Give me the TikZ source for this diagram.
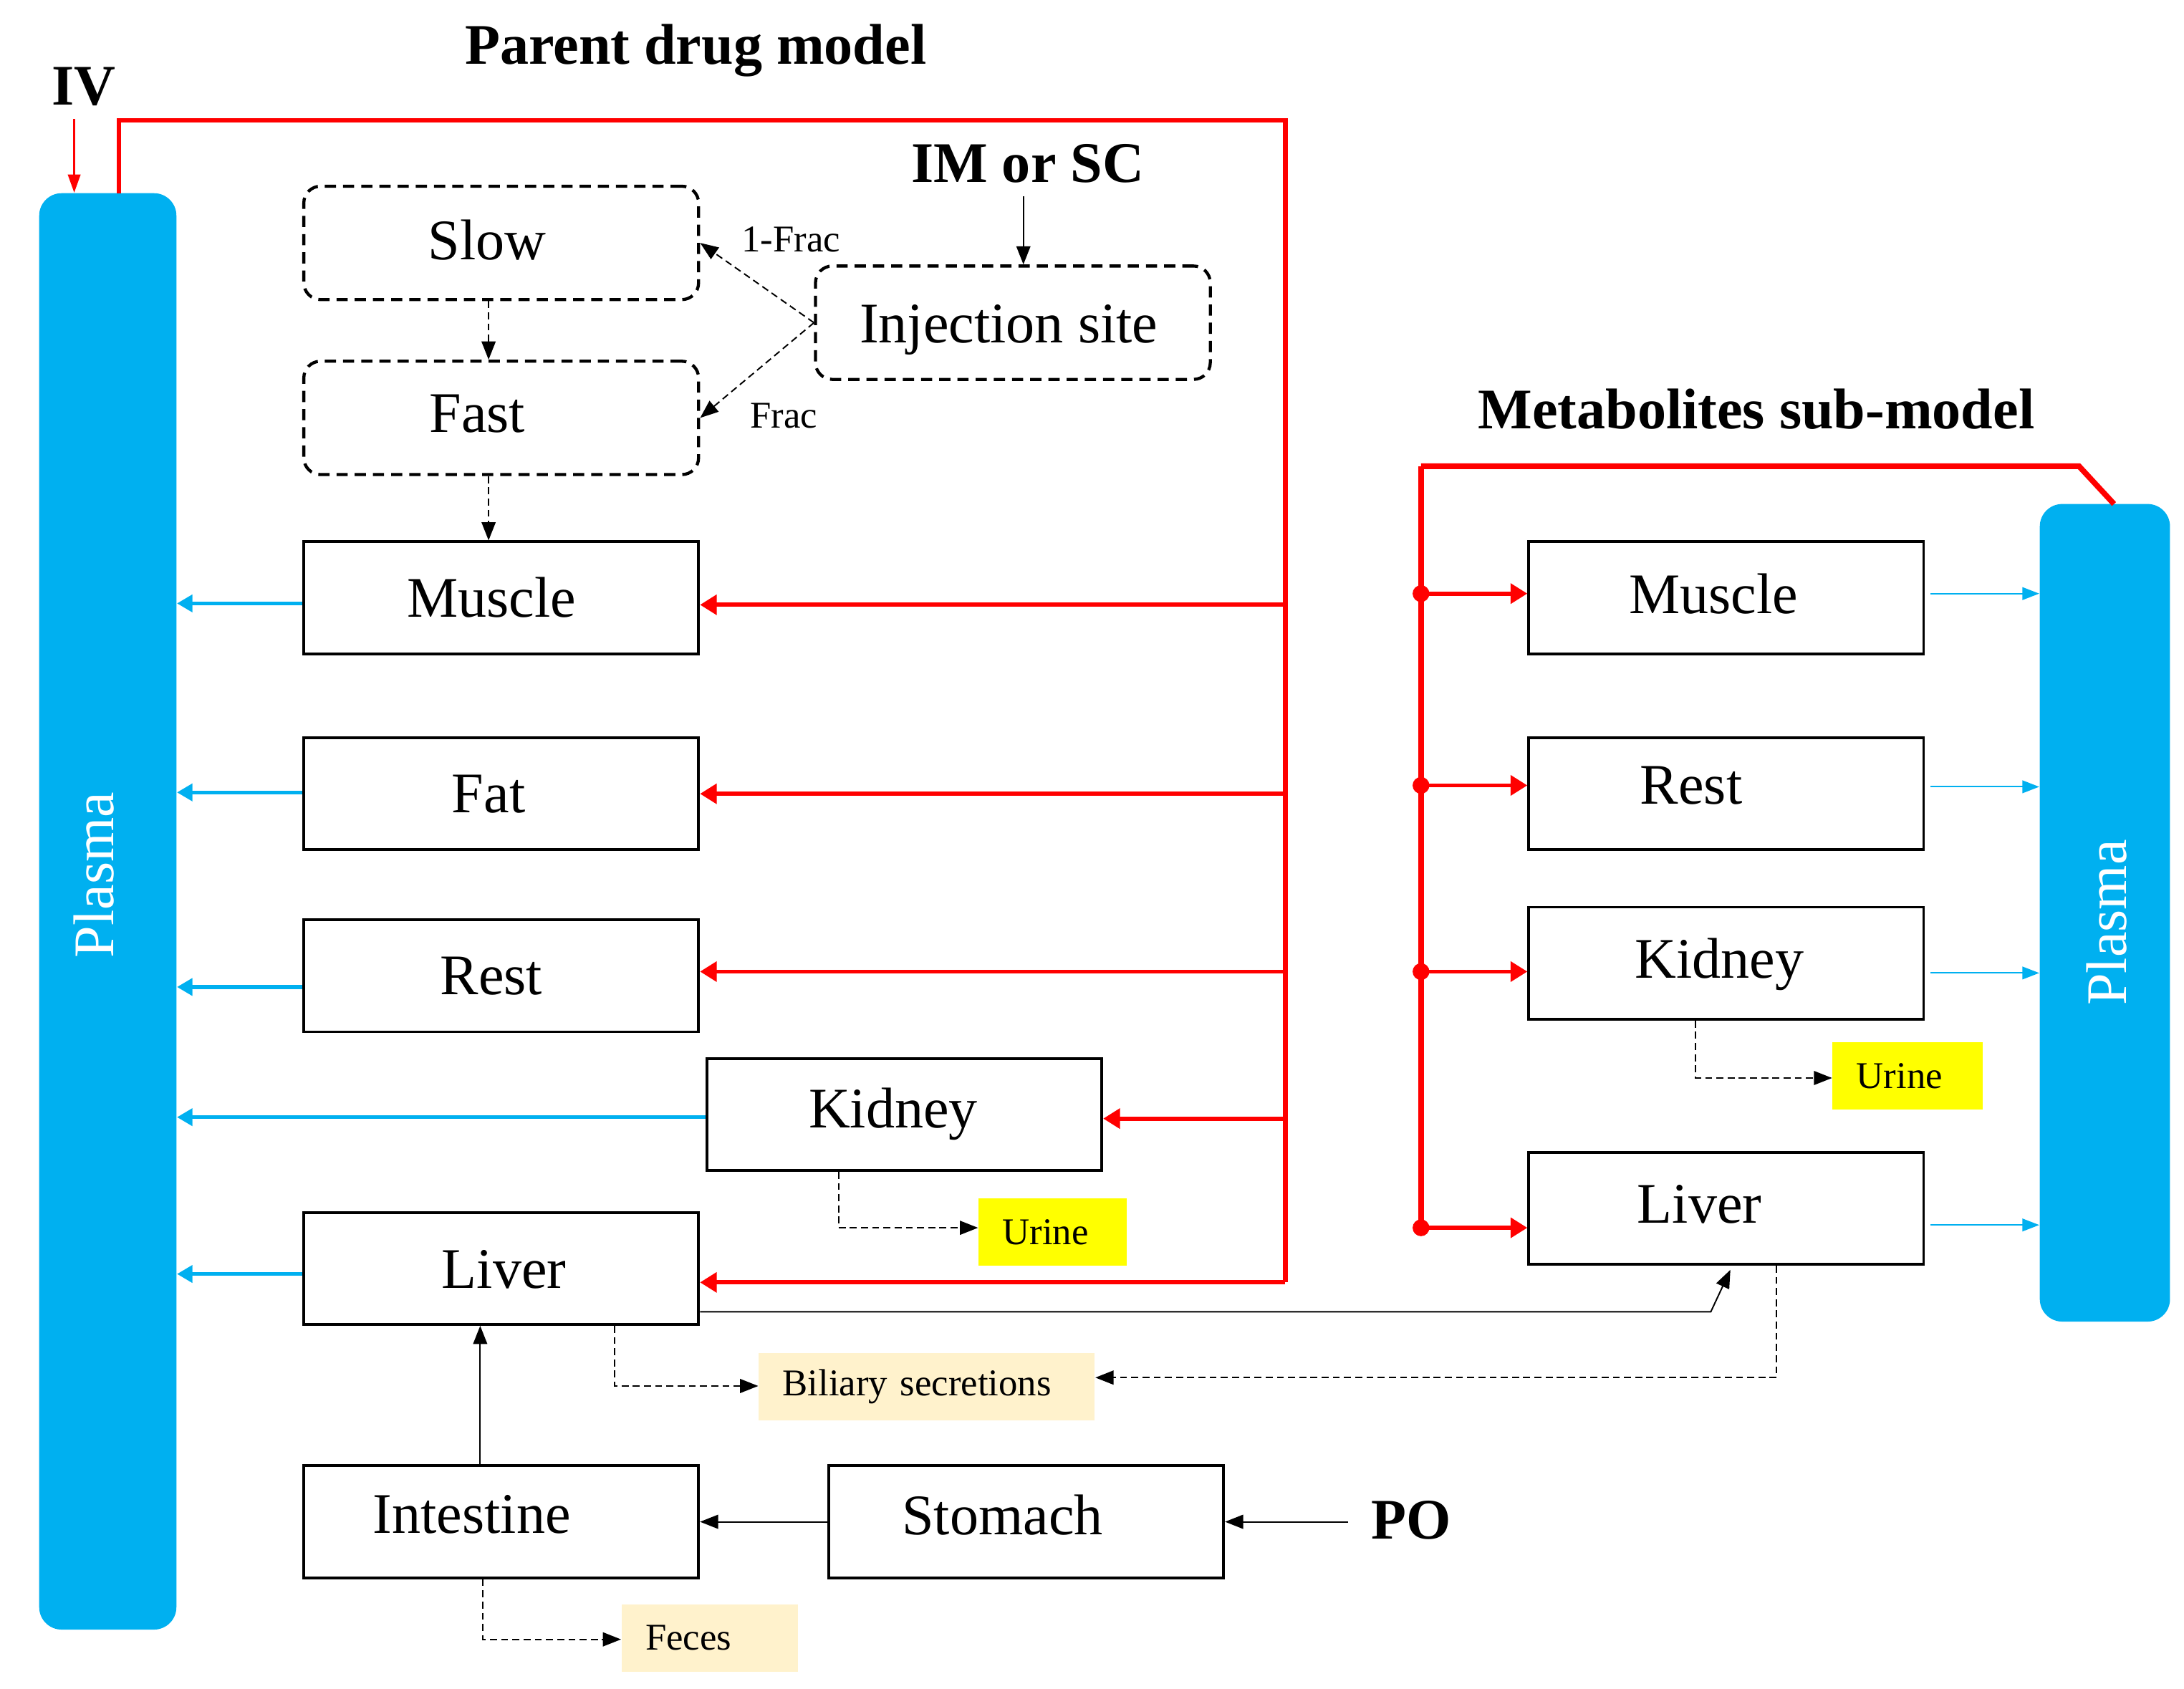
\documentclass[tikz,border=0pt]{standalone}
\usepackage{fontspec}
\setmainfont{Liberation Serif}
\usetikzlibrary{arrows.meta,calc}
\definecolor{pblue}{HTML}{00B0F0}
\definecolor{pred}{HTML}{FF0000}
\definecolor{pyel}{HTML}{FFFF00}
\definecolor{pbeige}{HTML}{FFF2CC}
\begin{document}
\begin{tikzpicture}[x=0.5pt,y=-0.5pt,font=\fontsize{20.5}{24}\selectfont,
  small/.style={font=\fontsize{13.5}{16}\selectfont},
  ttl/.style={font=\fontsize{20.5}{24}\selectfont\bfseries, inner sep=0pt},
  comp/.style={draw, line width=1pt, minimum width=141pt, minimum height=40pt, inner sep=0pt},
  dcomp/.style={comp, rounded corners=6pt, dash pattern=on 4pt off 2.5pt, line width=1.1pt, minimum height=40.5pt},
  plasma/.style={fill=pblue, rounded corners=8pt, inner sep=0pt},
  plt/.style={rotate=90, text=white},
  exc/.style={inner xsep=8.5pt, inner ysep=0pt, text width=#1, align=left, minimum height=24pt, small},
  rtip/.tip={Triangle[length=6pt,width=7pt]},
  redl/.style={draw=pred, line width=1.7pt},
  redm/.style={draw=pred, line width=2pt},
  redarr/.style={draw=pred, line width=1.5pt, -rtip},
  bluearr/.style={draw=pblue, line width=1.4pt, -{Triangle[length=5.5pt,width=6pt]}},
  bluethin/.style={draw=pblue, line width=0.5pt, -{Triangle[length=6pt,width=4.5pt]}},
  blk/.style={draw=black, line width=0.5pt, -{Triangle[length=6.5pt,width=5pt]}},
  dsh/.style={blk, dash pattern=on 2.5pt off 1.5pt},
  redthin/.style={draw=pred, line width=0.6pt, -{Triangle[length=6.5pt,width=4.5pt]}}
]
\useasboundingbox (0,0) rectangle (1560,1206);

% titles
\node[ttl] (t1) at (497,36) {Parent drug model};
\node[ttl] (t2) at (1254.5,292) {Metabolites sub-model};
\node[ttl] (iv) at (60,62) {IV};
\node[ttl] (ims) at (734,117) {IM or SC};
\node[ttl] (po) at (1008,1086) {PO};

% plasma
\node[plasma, minimum width=49pt, minimum height=513pt] (lpl) at (77,651) {};
\node[plt] (lplt) at (67,625) {Plasma};
\node[plasma, minimum width=46.5pt, minimum height=292pt] (rpl) at (1503.5,652) {};
\node[plt] (rplt) at (1505,659) {Plasma};

% parent compartments
\node[dcomp, label={[xshift=-5pt,yshift=1pt]center:Slow}] (slow) at (358,173.5) {};
\node[dcomp, label={[xshift=-8.5pt,yshift=1.5pt]center:Fast}] (fast) at (358,298.5) {};
\node[dcomp, label={[xshift=-1.5pt,yshift=-2.5pt]center:Injection site}] (inj) at (723.5,230.5) {};
\node[comp, label={[xshift=-3.5pt]center:Muscle}] (pmus) at (358,427) {};
\node[comp, label={[xshift=-4.5pt]center:Fat}] (pfat) at (358,567) {};
\node[comp, label={[xshift=-3.5pt]center:Rest}] (prest) at (358,697) {};
\node[comp, label={[xshift=-4pt]center:Kidney}] (pkid) at (646,796) {};
\node[comp, label={[xshift=1pt,yshift=-0.5pt]center:Liver}] (pliv) at (358,906) {};
\node[comp, label={[xshift=-10.5pt,yshift=2.5pt]center:Intestine}] (pint) at (358,1087) {};
\node[comp, label={[xshift=-8.5pt,yshift=2.5pt]center:Stomach}] (psto) at (733,1087) {};

% metabolite compartments
\node[comp, label={[xshift=-4.5pt,yshift=1.5pt]center:Muscle}] (mmus) at (1233,427) {};
\node[comp, label={[xshift=-12.5pt,yshift=3pt]center:Rest}] (mrest) at (1233,567) {};
\node[comp, label={[xshift=-2.5pt,yshift=-0.5pt]center:Kidney}] (mkid) at (1233,688) {};
\node[comp, label={[xshift=-9.5pt,yshift=1.5pt]center:Liver}] (mliv) at (1233,863) {};

% excretion boxes
\node[exc=36pt, fill=pyel] (urine1) at (752,880) {Urine};
\node[exc=36.5pt, fill=pyel] (urine2) at (1362.5,768.5) {Urine};
\node[exc=103pt, fill=pbeige] (bil) at (662,990.5) {Biliary secretions};
\node[exc=46pt, fill=pbeige] (feces) at (507,1170) {Feces};

% small labels
\node[small] (f1) at (565,171) {1-Frac};
\node[small] (f2) at (560,297) {Frac};

% parent red circulation
\coordinate (ptop) at (918,86);
\coordinate (pbot) at (918,916);
\coordinate (b1) at (918,432);
\coordinate (b2) at (918,567);
\coordinate (b3) at (918,694);
\coordinate (b4) at (918,799);
\coordinate (pst) at (85,138);
\draw[redl] (pst) -- (pst |- ptop) -- (ptop) -- (pbot);
\draw[redarr] (pbot) -- (pbot -| pliv.east);
\draw[redarr] (b1) -- (b1 -| pmus.east);
\draw[redarr] (b2) -- (b2 -| pfat.east);
\draw[redarr] (b3) -- (b3 -| prest.east);
\draw[redarr] (b4) -- (b4 -| pkid.east);

% parent blue returns
\coordinate (y1) at (0,431);
\coordinate (y2) at (0,566);
\coordinate (y3) at (0,705);
\coordinate (y4) at (0,798);
\coordinate (y5) at (0,910);
\draw[bluearr] (pmus.west |- y1) -- (lpl.east |- y1);
\draw[bluearr] (pfat.west |- y2) -- (lpl.east |- y2);
\draw[bluearr] (prest.west |- y3) -- (lpl.east |- y3);
\draw[bluearr] (pkid.west |- y4) -- (lpl.east |- y4);
\draw[bluearr] (pliv.west |- y5) -- (lpl.east |- y5);

% metabolite red circulation
\coordinate (mtop) at (1015,333);
\coordinate (mcorner) at (1485,333);
\coordinate (m1) at (1015,424);
\coordinate (m2) at (1015,561);
\coordinate (m3) at (1015,694);
\coordinate (m4) at (1015,877);
\coordinate (mend) at (1510,360);
\draw[redm] (m4) -- (mtop);
\draw[redm] (mtop) -- (mcorner) -- (mend);
\foreach \m/\b in {m1/mmus, m2/mrest, m3/mkid, m4/mliv}{
  \draw[redarr] (\m) -- (\m -| \b.west);
  \fill[pred] (\m) circle (3pt);
}
% metabolite blue returns
\coordinate (n1) at (0,424);
\coordinate (n2) at (0,562);
\coordinate (n3) at (0,695);
\coordinate (n4) at (0,875);
\draw[bluethin] ([xshift=2pt]mmus.east |- n1) -- (rpl.west |- n1);
\draw[bluethin] ([xshift=2pt]mrest.east |- n2) -- (rpl.west |- n2);
\draw[bluethin] ([xshift=2pt]mkid.east |- n3) -- (rpl.west |- n3);
\draw[bluethin] ([xshift=2pt]mliv.east |- n4) -- (rpl.west |- n4);

% doses
\coordinate (ivs) at (53,85);
\draw[redthin] (ivs) -- (ivs |- lpl.north);
\coordinate (ims1) at (731,140);
\draw[blk] (ims1) -- (ims1 |- inj.north);
\coordinate (po1) at (963,1087);
\draw[blk] (po1) -- (po1 -| psto.east);

% injection site split
\draw[dsh] (inj.west) -- (slow.east);
\draw[dsh] (inj.west) -- (fast.east);
\coordinate (sf) at (349,0);
\draw[dsh] (sf |- slow.south) -- (sf |- fast.north);
\draw[dsh] (sf |- fast.south) -- (sf |- pmus.north);

% oral route
\draw[blk] (psto.west) -- (pint.east);
\coordinate (il) at (343,0);
\draw[blk] (il |- pint.north) -- (il |- pliv.south);

% liver to metabolite liver
\coordinate (lm1) at (0,937);
\coordinate (lm2) at (1222,937);
\coordinate (lm3) at (1236,907);
\draw[blk] (pliv.east |- lm1) -- (lm2) -- (lm3);

% excretion
\coordinate (u1) at (599,877);
\draw[dsh] (u1 |- pkid.south) -- (u1) -- (u1 -| urine1.west);
\coordinate (u2) at (1211,770);
\draw[dsh] (u2 |- mkid.south) -- (u2) -- (u2 -| urine2.west);
\coordinate (bl1) at (439,990);
\draw[dsh] (bl1 |- pliv.south) -- (bl1) -- (bl1 -| bil.west);
\coordinate (bl2) at (1269,984);
\draw[dsh] (bl2 |- mliv.south) -- (bl2) -- (bl2 -| bil.east);
\coordinate (fe) at (345,1171);
\draw[dsh] (fe |- pint.south) -- (fe) -- (fe -| feces.west);
\end{tikzpicture}
\end{document}
